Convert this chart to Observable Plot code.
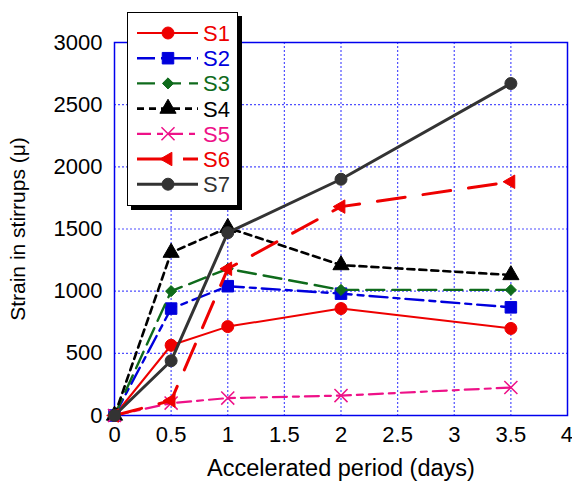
<!DOCTYPE html>
<html>
<head>
<meta charset="utf-8">
<script src="https://cdn.jsdelivr.net/npm/d3@7"></script>
<script src="https://cdn.jsdelivr.net/npm/@observablehq/plot@0.6"></script>
<style>
  html, body { margin: 0; padding: 0; background: white; }
  #wrap { position: relative; width: 572px; height: 481px; font-family: "Liberation Sans", Arial, sans-serif; }
  #legend { position: absolute; left: 127px; top: 12px; width: 109px; height: 192px;
            border: 1.5px solid black; background: white; box-shadow: 4px 4px 0 black; }
</style>
</head>
<body>
<div id="wrap"><div id="legend"></div></div>
<script>
// ---- data ----
const days = [0, 0.5, 1, 2, 3.5];
const seriesNames = ["S1", "S2", "S3", "S4", "S5", "S6", "S7"];
const s1 = [0, 565, 715, 860, 700];
const s2 = [0, 860, 1040, 980, 870];
const s3 = [0, 1000, 1180, 1010, 1010];
const s4 = [0, 1310, 1510, 1210, 1130];
const s5 = [0, 100, 140, 160, 225];
const s6 = [0, 120, 1180, 1680, 1880];
const s7 = [0, 440, 1470, 1900, 2670];
const xTicks = [0, 0.5, 1, 1.5, 2, 2.5, 3, 3.5, 4];
const yTicks = [0, 500, 1000, 1500, 2000, 2500, 3000];

// ---- styles ----
const styles = [
  {color: "#ee0000", dash: null, symbol: "circle", r: 6, width: 2, d3sym: d3.symbolCircle, rotate: 0},
  {color: "#0000dd", dash: "18,6,6,6", symbol: "square", r: 6.5, width: 2.4, d3sym: d3.symbolSquare, rotate: 0},
  {color: "#0f6b1c", dash: "18,8", symbol: "diamond2", r: 5, width: 2.4, d3sym: d3.symbolDiamond2, rotate: 0},
  {color: "#000000", dash: "7,5", symbol: "triangle", r: 6, width: 2.6, d3sym: d3.symbolTriangle, rotate: 0},
  {color: "#ee1188", dash: "14,6,6,6", symbol: "times", r: 6, width: 2.2, d3sym: d3.symbolTimes, rotate: 0},
  {color: "#ee0000", dash: "28,18", symbol: "triangle", r: 5, width: 3, d3sym: d3.symbolTriangle, rotate: -90},
  {color: "#333333", dash: null, symbol: "circle", r: 6, width: 3, d3sym: d3.symbolCircle, rotate: 0}
];
const values = [s1, s2, s3, s4, s5, s6, s7];

const marks = [
  Plot.gridX(xTicks.filter(d => d > 0 && d < 4), {stroke: "#3030ff", strokeOpacity: 0.85, strokeDasharray: "2,2", strokeWidth: 1.2}),
  Plot.gridY(yTicks.filter(d => d > 0 && d < 3000), {stroke: "#3030ff", strokeOpacity: 0.85, strokeDasharray: "2,2", strokeWidth: 1.2}),
  Plot.frame({stroke: "#0000ee", strokeWidth: 1.5}),
  Plot.axisX({ticks: xTicks, tickSize: 0, tickPadding: 11, tickFormat: d => String(d), fontSize: 22,
    label: "Accelerated period (days)", labelAnchor: "center", labelOffset: 60, labelArrow: "none"}),
  Plot.axisY({ticks: yTicks, tickSize: 0, tickPadding: 12, tickFormat: d => String(d), fontSize: 22,
    label: "Strain in stirrups (μ)", labelAnchor: "center", labelOffset: 104, labelArrow: "none"})
];

values.forEach((vals, i) => {
  const st = styles[i];
  const data = days.map((d, j) => ({x: d, y: vals[j]}));
  marks.push(Plot.line(data, {x: "x", y: "y", stroke: st.color, strokeWidth: st.width,
    strokeDasharray: st.dash || undefined}));
  const symStroke = st.symbol === "times";
  marks.push(Plot.dot(data, {x: "x", y: "y", symbol: st.symbol, r: st.r, rotate: st.rotate,
    fill: symStroke ? "none" : st.color, stroke: st.color, strokeWidth: symStroke ? 1.5 : 1}));
});

const chart = Plot.plot({
  width: 572,
  height: 481,
  marginLeft: 114,
  marginRight: 5,
  marginTop: 42,
  marginBottom: 66,
  x: {domain: [0, 4]},
  y: {domain: [0, 3000]},
  style: {fontFamily: "Liberation Sans, Arial, sans-serif", fontSize: "22px", background: "white", color: "black"},
  marks
});
document.getElementById("wrap").prepend(chart);
d3.select(chart).selectAll('[aria-label="x-axis label"] text').attr("font-size", 23.5);
d3.select(chart).selectAll('[aria-label="y-axis label"] text').attr("font-size", 21);
// keep the last x tick label inside the picture
d3.select(chart).selectAll('[aria-label="x-axis tick label"] text')
  .filter(function() { return this.textContent === String(xTicks[xTicks.length - 1]); })
  .attr("text-anchor", "end").attr("dx", 5.5);

// ---- legend ----
const leg = d3.select("#legend").append("svg")
  .attr("width", 109).attr("height", 192)
  .style("font-family", "Liberation Sans, Arial, sans-serif");
seriesNames.forEach((name, i) => {
  const st = styles[i];
  const y = 20 + i * 25.2;
  const g = leg.append("g").attr("transform", `translate(0,${y})`);
  g.append("line").attr("x1", 9).attr("x2", 70).attr("y1", 0).attr("y2", 0)
    .attr("stroke", st.color).attr("stroke-width", st.width)
    .attr("stroke-dasharray", st.dash || null);
  const symStroke = st.symbol === "times";
  const area = Math.PI * st.r * st.r;
  g.append("path").attr("d", d3.symbol(st.d3sym, area)())
    .attr("transform", `translate(40,0) rotate(${st.rotate})`)
    .attr("fill", symStroke ? "none" : st.color).attr("stroke", st.color)
    .attr("stroke-width", symStroke ? 1.5 : 1);
  g.append("text").attr("x", 75).attr("y", 0).attr("dy", "0.36em")
    .attr("font-size", 22).attr("fill", st.color).text(name);
});
</script>
</body>
</html>
